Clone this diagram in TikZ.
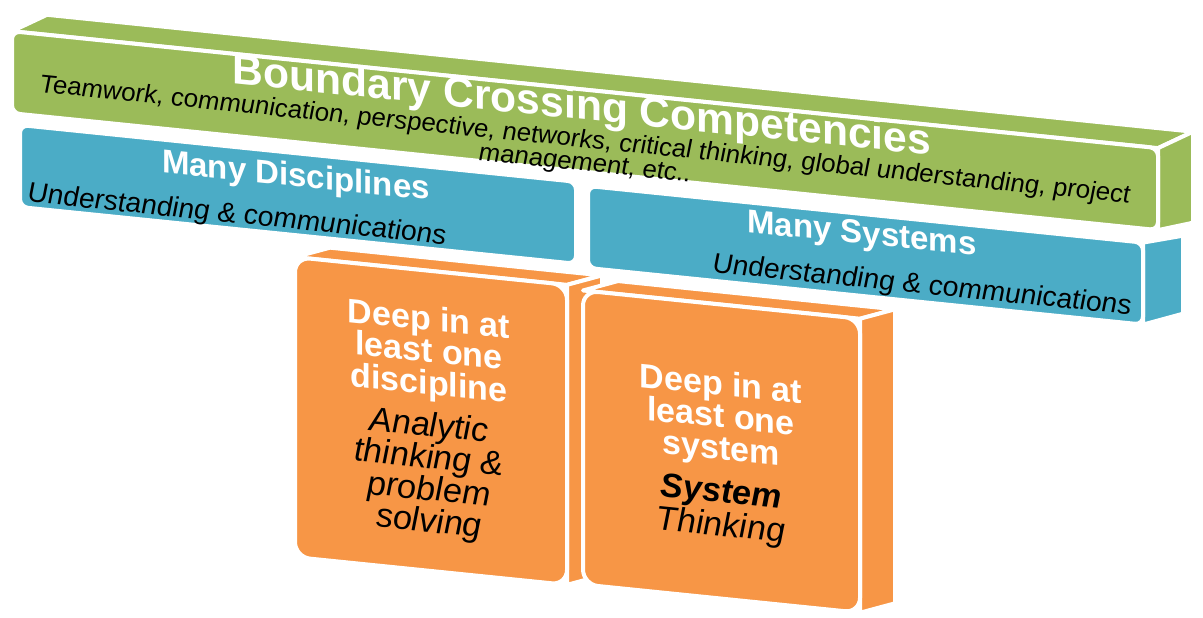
\documentclass[tikz,border=0pt]{standalone}
\usepackage{fontspec}
\setmainfont{Liberation Sans}
\usetikzlibrary{positioning}
\definecolor{tgreen}{HTML}{9BBB59}
\definecolor{tblue}{HTML}{4BACC6}
\definecolor{torange}{HTML}{F79646}
\tikzset{
  face/.style={draw=white, line width=2pt, line join=round},
  front/.style={face, rounded corners=#1},
  front/.default=4pt,
  head/.style={text=white, inner sep=0pt, transform shape, align=center},
  note/.style={text=black, inner sep=0pt, transform shape, align=center}
}

\begin{document}
\begin{tikzpicture}[x=0.5pt, y=-0.5pt]
  \useasboundingbox (0,0) rectangle (1203,617);
  \begin{scope}[yslant=-0.102]
    % Green slab (top, side)
    \draw[face, fill=tgreen] (12,30) -- (47,10) -- (1193,10) -- (1158,30) -- cycle;
    \draw[face, fill=tgreen] (1158,30) -- (1193,10) -- (1193,101) -- (1158,112) -- cycle;
    % Blue side
    \draw[face, fill=tblue] (1143,126) -- (1183,115) -- (1183,193) -- (1143,208) -- cycle;
    % Orange columns
    \draw[face, fill=torange] (295,227) -- (330,214) -- (602,214) -- (567,227) -- cycle;
    \draw[face, fill=torange] (567,227) -- (602,214) -- (602,514) -- (567,527) -- cycle;
    \draw[front=7.5pt, fill=torange] (295,227) rectangle (567,527);
    \draw[face, fill=torange] (583,231) -- (618,218) -- (895,218) -- (860,231) -- cycle;
    \draw[face, fill=torange] (860,231) -- (895,218) -- (895,512) -- (860,525) -- cycle;
    \draw[front=7.5pt, fill=torange] (583,231) rectangle (860,525);
    % Blue fronts
    \draw[front, fill=tblue] (20,123) rectangle (576,205);
    \draw[front, fill=tblue] (588,126) rectangle (1143,208);
    % Green front
    \draw[front, fill=tgreen] (12,30) rectangle (1158,112);

    % Texts
    \node[head, font=\fontsize{21.3}{24}\selectfont\bfseries, anchor=base] (bcc) at (582,60)
      {Boundary Crossing Competencies};
    \node[note, font=\fontsize{12.8}{11.75}\selectfont\itshape, anchor=north] (bccnote) at (585,69)
      {Teamwork, communication, perspective, networks, critical thinking, global understanding, project\\
       management, etc..};
    \node[head, font=\fontsize{16.5}{18}\selectfont\bfseries, anchor=base] (mdisc) at (296,156)
      {Many Disciplines};
    \node[note, font=\fontsize{14}{16}\selectfont\itshape, anchor=base] (mdiscnote) at (237,199)
      {Understanding \& communications};
    \node[head, font=\fontsize{16.5}{18}\selectfont\bfseries, anchor=base] (msys) at (862,156)
      {Many Systems};
    \node[note, font=\fontsize{14}{16}\selectfont\itshape, anchor=base] (msysnote) at (922,199.5)
      {Understanding \& communications};
    \node[head, font=\fontsize{17}{16}\selectfont\bfseries, anchor=north] (ddisc) at (429,261.5)
      {Deep in at\\least one\\discipline};
    \node[note, font=\fontsize{17}{16}\selectfont\itshape, below=4.75pt of ddisc, anchor=north] (anth)
      {Analytic\\thinking \&\\problem\\solving};
    \node[head, font=\fontsize{17}{16}\selectfont\bfseries, anchor=north] (dsys) at (721,297)
      {Deep in at\\least one\\system};
    \node[note, font=\fontsize{17}{15.5}\selectfont\itshape, below=5.5pt of dsys, anchor=north] (sth)
      {\textbf{System}\\Thinking};
  \end{scope}
\end{tikzpicture}
\end{document}
